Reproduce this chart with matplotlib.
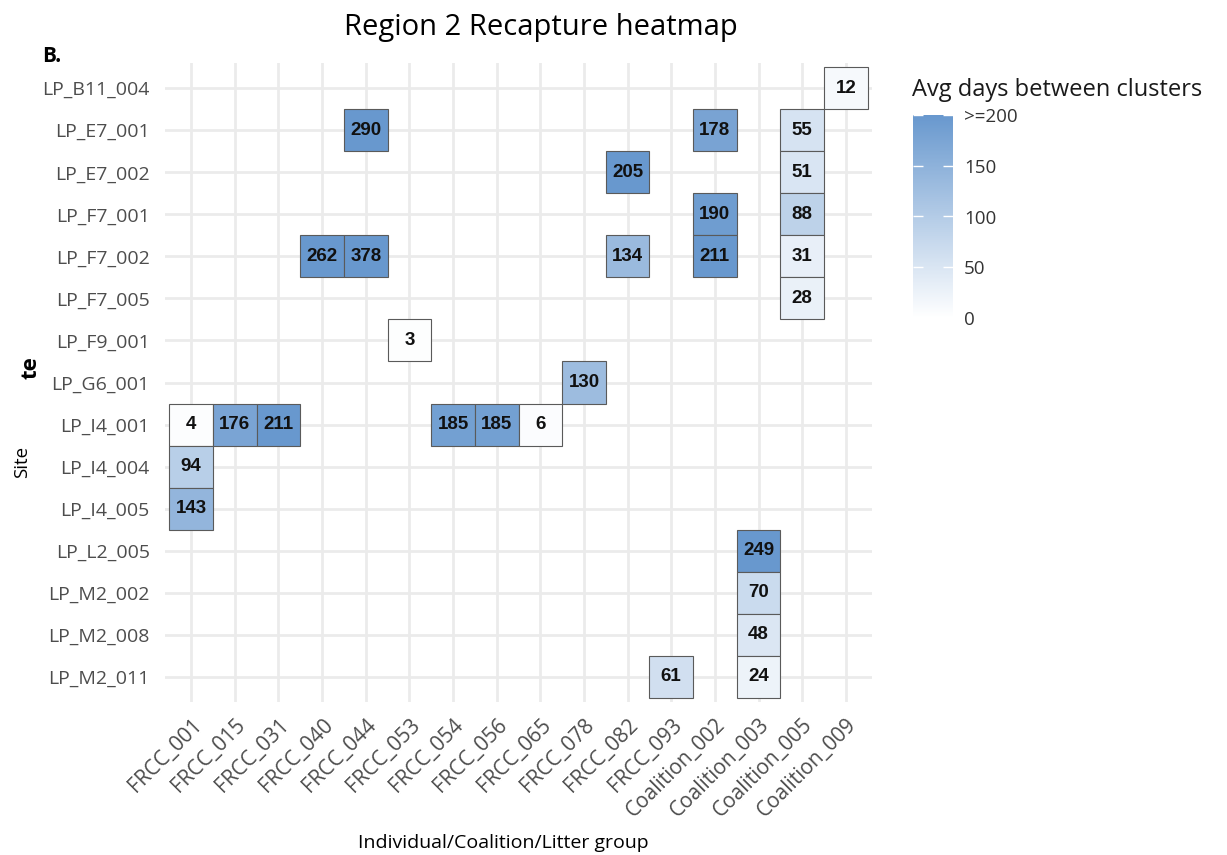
import numpy as np
import matplotlib
matplotlib.use("Agg")
import matplotlib.pyplot as plt
from matplotlib.colors import LinearSegmentedColormap, Normalize
import matplotlib.colorbar as mcolorbar

plt.rcParams['font.family'] = ['Open Sans', 'DejaVu Sans']

groups = ["FRCC_001", "FRCC_015", "FRCC_031", "FRCC_040", "FRCC_044", "FRCC_053",
          "FRCC_054", "FRCC_056", "FRCC_065", "FRCC_078", "FRCC_082", "FRCC_093",
          "Coalition_002", "Coalition_003", "Coalition_005", "Coalition_009"]
sites = ["LP_B11_004", "LP_E7_001", "LP_E7_002", "LP_F7_001", "LP_F7_002", "LP_F7_005",
         "LP_F9_001", "LP_G6_001", "LP_I4_001", "LP_I4_004", "LP_I4_005", "LP_L2_005",
         "LP_M2_002", "LP_M2_008", "LP_M2_011"]

# (site, group, avg days)
rec_site = ["LP_B11_004",
            "LP_E7_001", "LP_E7_001", "LP_E7_001",
            "LP_E7_002", "LP_E7_002",
            "LP_F7_001", "LP_F7_001",
            "LP_F7_002", "LP_F7_002", "LP_F7_002", "LP_F7_002", "LP_F7_002",
            "LP_F7_005", "LP_F9_001", "LP_G6_001",
            "LP_I4_001", "LP_I4_001", "LP_I4_001", "LP_I4_001", "LP_I4_001", "LP_I4_001",
            "LP_I4_004", "LP_I4_005", "LP_L2_005", "LP_M2_002", "LP_M2_008",
            "LP_M2_011", "LP_M2_011"]
rec_group = ["Coalition_009",
             "FRCC_044", "Coalition_002", "Coalition_005",
             "FRCC_082", "Coalition_005",
             "Coalition_002", "Coalition_005",
             "FRCC_040", "FRCC_044", "FRCC_082", "Coalition_002", "Coalition_005",
             "Coalition_005", "FRCC_053", "FRCC_078",
             "FRCC_001", "FRCC_015", "FRCC_031", "FRCC_054", "FRCC_056", "FRCC_065",
             "FRCC_001", "FRCC_001", "Coalition_003", "Coalition_003", "Coalition_003",
             "FRCC_093", "Coalition_003"]
rec_days = [12,
            290, 178, 55,
            205, 51,
            190, 88,
            262, 378, 134, 211, 31,
            28, 3, 130,
            4, 176, 211, 185, 185, 6,
            94, 143, 249, 70, 48,
            61, 24]

W, H = 1227, 855
fig = plt.figure(figsize=(W / 100, H / 100), dpi=100)

ax = fig.add_axes([165 / W, 1 - 702 / H, (872 - 165) / W, (702 - 63) / H])

cmap = LinearSegmentedColormap.from_list("bl", ["#FFFFFF", "#6898CE"])
norm = Normalize(vmin=0, vmax=200, clip=True)

xi = np.array([groups.index(g) for g in rec_group])
yi = np.array([sites.index(s) for s in rec_site])
vals = np.array(rec_days, dtype=float)
colors = cmap(norm(np.minimum(vals, 200)))

ax.bar(xi, np.ones_like(vals), bottom=yi - 0.5, width=1.0, color=colors,
       edgecolor="#5A5A5A", linewidth=0.8, zorder=2)

for x, y, d in zip(xi, yi, rec_days):
    ax.text(x, y, str(d), ha="center", va="center",
            fontsize=13.5, fontweight="bold", family=["Liberation Sans", "DejaVu Sans"],
            color="#111111", zorder=3)

ax.set_xlim(-0.6, len(groups) - 1 + 0.6)
ax.set_ylim(len(sites) - 1 + 0.6, -0.6)
ax.set_xticks(range(len(groups)))
ax.set_xticklabels(groups, rotation=45, ha="right", rotation_mode="anchor",
                   fontsize=15, color="#4D4D4D")
ax.set_yticks(range(len(sites)))
ax.set_yticklabels(sites, fontsize=14, color="#4D4D4D")
ax.tick_params(axis="x", length=0, pad=9)
ax.tick_params(axis="y", length=0, pad=11)
ax.grid(True, color="#EBEBEB", linewidth=2)
ax.set_axisbelow(True)
for sp in ax.spines.values():
    sp.set_visible(False)

fig.text(503 / W, 1 - 843 / H, "Individual/Coalition/Litter group", ha="center",
         va="center", fontsize=14)
fig.text(22 / W, 1 - 462 / H, "Site", ha="center", va="center", fontsize=13.5,
         rotation=90)

fig.text(541 / W, 1 - 27 / H, "Region 2 Recapture heatmap", ha="center", va="center",
         fontsize=21)
fig.text(42 / W, 1 - 57 / H, "B.", ha="left", va="center", fontsize=15, fontweight="bold")
fig.text(31 / W, 1 - 368 / H, "te", ha="center", va="center", fontsize=16,
         fontweight="bold", rotation=90)

# legend colorbar
cax = fig.add_axes([913 / W, 1 - 318 / H, 40 / W, (318 - 115) / H])
cb = mcolorbar.ColorbarBase(cax, cmap=cmap, norm=norm, orientation="vertical",
                            ticks=[0, 50, 100, 150, 200])
cb.outline.set_visible(False)
cb.set_ticklabels(["0", "50", "100", "150", ">=200"])
cax.yaxis.set_ticks_position("both")
cax.tick_params(axis="y", direction="in", length=7, width=1, colors="white",
                labelcolor="#333333", labelsize=13.5, labelright=True, labelleft=False,
                pad=8)
fig.text(912 / W, 1 - 90 / H, "Avg days between clusters", ha="left", va="center",
         fontsize=17, color="#1A1A1A")

fig.savefig("out.png", dpi=100)
